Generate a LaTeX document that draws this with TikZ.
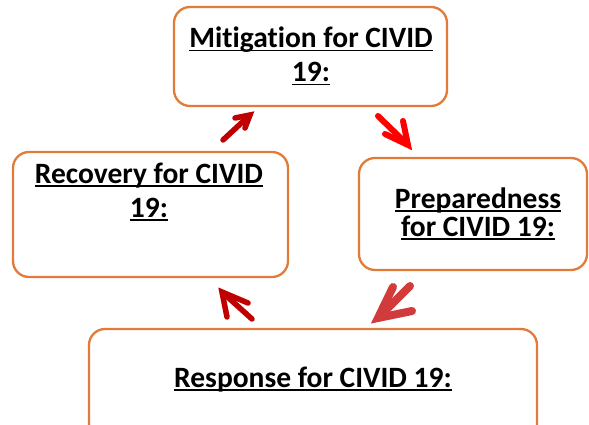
\documentclass[tikz,border=0pt]{standalone}
\usepackage{fontspec}
\setmainfont{Carlito}[Ligatures=NoCommon]
\definecolor{boxorange}{HTML}{E07B39}
\definecolor{darkred}{HTML}{C00000}
\definecolor{brightred}{HTML}{FF0000}
\definecolor{midred}{HTML}{D13B3B}
\newcommand\myul[1]{\setbox0\hbox{#1}\rlap{\rule[-3.5pt]{\wd0}{1.8pt}}\box0}
\tikzset{
  roundbox/.style={draw=boxorange, line width=2.3pt, rounded corners=16pt, fill=white, inner sep=0pt, outer sep=0pt},
  boxtext/.style={font=\fontsize{29.5pt}{34pt}\selectfont\bfseries, align=center, inner sep=0pt, anchor=base},
  arrline/.style={line width=#1, line cap=round, line join=miter},
}
\begin{document}
\begin{tikzpicture}[x=1pt,y=-1pt]
\clip (0,0) rectangle (589,425);
\fill[white] (0,0) rectangle (589,425);
% boxes
\node[roundbox, minimum width=273pt, minimum height=99pt] (mit) at (310.5,56.5) {};
\node[roundbox, minimum width=275pt, minimum height=125pt] (rec) at (150.5,214.5) {};
\node[roundbox, minimum width=228pt, minimum height=112pt] (pre) at (473,214) {};
\node[roundbox, minimum width=448pt, minimum height=111pt] (res) at (313,384.5) {};
% texts (base anchor = baseline of the last line)
\node[boxtext] (mittxt) at (311,82) {\myul{Mitigation for CIVID}\\\myul{19:}};
\node[boxtext] (rectxt) at (149,217) {\myul{Recovery for CIVID}\\\myul{19:}};
\node[boxtext, font=\fontsize{29.5pt}{28pt}\selectfont\bfseries] (pretxt) at (478,236) {\myul{Preparedness}\\\myul{for CIVID 19:}};
\node[boxtext] (restxt) at (313,387) {\myul{Response for CIVID 19:}};
% arrow 1: recovery -> mitigation
\coordinate (a1t) at (223,140); \coordinate (a1h) at (250,115);
\coordinate (a1b1) at (245,128); \coordinate (a1b2) at (235,118);
\draw[arrline=5.5pt, darkred, shorten >=3pt] (a1t) -- (a1h);
\draw[arrline=5.5pt, darkred] (a1b1) -- (a1h) -- (a1b2);
% arrow 2: mitigation -> preparedness
\coordinate (a2t) at (378,116); \coordinate (a2h) at (408,145);
\coordinate (a2b1) at (403,121); \coordinate (a2b2) at (385,134);
\draw[arrline=6pt, brightred, shorten >=3pt] (a2t) -- (a2h);
\draw[arrline=6pt, brightred] (a2b1) -- (a2h) -- (a2b2);
% arrow 3: preparedness -> response
\coordinate (a3t) at (410,286); \coordinate (a3h) at (378,318);
\coordinate (a3b1) at (393,287); \coordinate (a3b2) at (412,311);
\draw[arrline=8pt, midred, shorten >=4pt] (a3t) -- (a3h);
\draw[arrline=8pt, midred] (a3b1) -- (a3h) -- (a3b2);
% arrow 4: response -> recovery
\coordinate (a4t) at (252,319); \coordinate (a4h) at (222,292);
\coordinate (a4b1) at (227,317); \coordinate (a4b2) at (248,303);
\draw[arrline=5.5pt, darkred, shorten >=3pt] (a4t) -- (a4h);
\draw[arrline=5.5pt, darkred] (a4b1) -- (a4h) -- (a4b2);
\end{tikzpicture}
\end{document}
